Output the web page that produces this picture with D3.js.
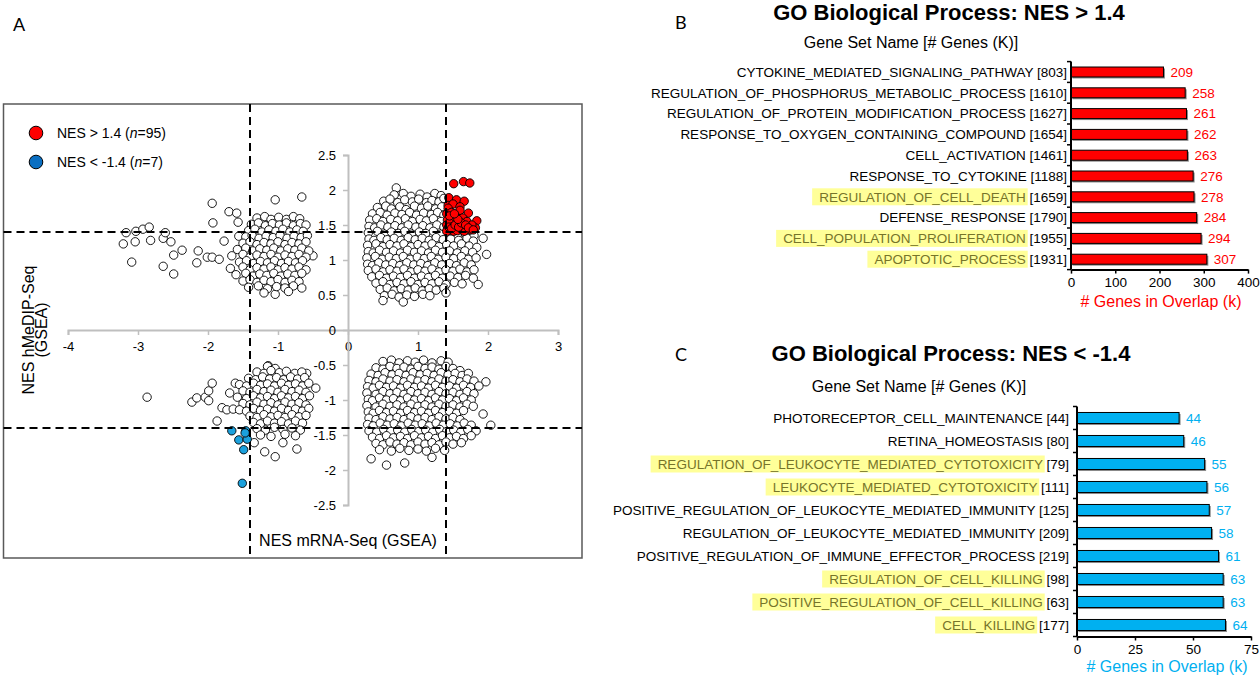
<!DOCTYPE html>
<html>
<head>
<meta charset="utf-8">
<script src="https://cdn.jsdelivr.net/npm/d3@7"></script>
<style>
body { margin: 0; background: #fff; }
svg text { font-family: "Liberation Sans", Arial, sans-serif; }
</style>
</head>
<body>
<svg id="fig" width="1260" height="677"></svg>
<script>
// ---------- panel A data (NES mRNA-Seq, NES hMeDIP-Seq)
var upRightPts = [
  [0.69,2.03],
  [0.66,1.93],[0.79,1.95],[0.9,1.91],[1.03,1.94],[1.13,1.9],[1.24,1.95],[1.33,1.92],
  [0.51,1.84],[0.6,1.87],[0.71,1.82],[0.81,1.86],[0.92,1.83],[1.01,1.87],[1.12,1.82],[1.2,1.85],[1.3,1.83],[1.37,1.88],
  [0.42,1.75],[0.54,1.77],[0.62,1.73],[0.74,1.76],[0.83,1.72],[0.95,1.77],[1.05,1.74],[1.14,1.77],[1.25,1.73],[1.34,1.76],
  [0.35,1.66],[0.46,1.68],[0.56,1.64],[0.67,1.67],[0.77,1.65],[0.88,1.68],[0.98,1.64],[1.08,1.67],[1.19,1.65],[1.28,1.68],[1.37,1.64],
  [0.31,1.57],[0.41,1.59],[0.5,1.55],[0.61,1.58],[0.71,1.56],[0.82,1.59],[0.92,1.55],[1.03,1.58],[1.12,1.56],[1.22,1.59],[1.33,1.55],
  [0.3,1.48],[0.38,1.46],[0.47,1.5],[0.57,1.47],[0.67,1.49],[0.77,1.46],[0.86,1.5],[0.97,1.47],[1.07,1.49],[1.17,1.46],[1.27,1.5],[1.37,1.47],
  [0.29,1.39],[0.42,1.41],[0.52,1.37],[0.62,1.4],[0.72,1.38],[0.81,1.41],[0.91,1.37],[1.02,1.4],[1.11,1.38],[1.22,1.41],[1.32,1.37],[1.45,1.37],[1.56,1.36],[1.68,1.37],[1.8,1.35],[1.93,1.31],
  [0.3,1.3],[0.37,1.28],[0.47,1.32],[0.56,1.29],[0.66,1.31],[0.76,1.28],[0.86,1.32],[0.96,1.29],[1.06,1.31],[1.16,1.28],[1.26,1.32],[1.36,1.29],[1.47,1.3],[1.58,1.28],[1.7,1.31],[1.79,1.27],
  [0.28,1.21],[0.4,1.23],[0.5,1.19],[0.6,1.22],[0.7,1.2],[0.8,1.23],[0.9,1.19],[1.0,1.22],[1.1,1.2],[1.2,1.23],[1.3,1.19],[1.41,1.22],[1.51,1.2],[1.62,1.23],[1.73,1.2],[1.84,1.18],
  [0.29,1.12],[0.36,1.1],[0.45,1.14],[0.55,1.11],[0.65,1.13],[0.75,1.1],[0.85,1.14],[0.95,1.11],[1.05,1.13],[1.15,1.1],[1.25,1.14],[1.35,1.11],[1.45,1.13],[1.56,1.1],[1.67,1.13],[1.78,1.11],
  [0.27,1.03],[0.39,1.05],[0.49,1.01],[0.59,1.04],[0.69,1.02],[0.79,1.05],[0.89,1.01],[0.99,1.04],[1.09,1.02],[1.19,1.05],[1.29,1.01],[1.4,1.04],[1.51,1.02],[1.62,1.05],[1.72,1.01],[1.83,1.03],[1.98,1.08],
  [0.28,0.94],[0.35,0.92],[0.44,0.96],[0.54,0.93],[0.64,0.95],[0.74,0.92],[0.84,0.96],[0.94,0.93],[1.04,0.95],[1.14,0.92],[1.24,0.96],[1.34,0.93],[1.45,0.95],[1.55,0.92],[1.66,0.96],[1.76,0.93],
  [0.29,0.85],[0.4,0.87],[0.5,0.83],[0.6,0.86],[0.7,0.84],[0.8,0.87],[0.9,0.83],[1.0,0.86],[1.1,0.84],[1.2,0.87],[1.3,0.83],[1.4,0.86],[1.5,0.84],[1.6,0.87],[1.7,0.83],[1.8,0.86],
  [0.34,0.76],[0.45,0.78],[0.55,0.74],[0.65,0.77],[0.75,0.75],[0.85,0.78],[0.95,0.74],[1.05,0.77],[1.15,0.75],[1.25,0.78],[1.35,0.74],[1.46,0.77],[1.57,0.75],[1.68,0.78],[1.79,0.74],
  [0.4,0.67],[0.5,0.69],[0.6,0.65],[0.7,0.68],[0.8,0.66],[0.9,0.69],[1.0,0.65],[1.1,0.68],[1.2,0.66],[1.3,0.69],[1.4,0.65],[1.52,0.68],[1.63,0.66],[1.86,0.65],
  [0.46,0.58],[0.56,0.6],[0.66,0.56],[0.76,0.59],[0.86,0.57],[0.96,0.6],[1.06,0.56],[1.16,0.59],[1.26,0.57],[1.37,0.6],
  [0.52,0.49],[0.63,0.51],[0.73,0.47],[0.84,0.5],[0.95,0.48],[1.07,0.51],[1.17,0.49],[1.4,0.53],
  [0.5,0.42],[0.79,0.4]
];
var upLeftPts = [
  [-3.17,1.39],[-3.03,1.41],[-2.93,1.44],[-2.84,1.47],[-3.21,1.23],[-3.04,1.26],[-2.82,1.28],[-3.09,0.97],
  [-2.64,1.31],[-2.61,1.39],[-2.53,1.26],[-2.49,1.07],[-2.37,1.14],[-2.64,0.91],[-2.49,0.8],[-2.14,1.13],
  [-2.16,0.96],[-2.01,1.04],[-1.94,1.04],[-1.84,1.01],[-1.77,1.27],[-1.94,1.81],[-1.93,1.53],[-1.7,1.69],
  [-1.59,1.67],[-1.57,1.54],[-1.56,1.34],[-1.04,1.86],[-0.66,1.9],[-0.5,1.06],[-1.04,0.51],
  [-1.3,1.6],[-1.19,1.62],[-1.1,1.58],[-0.99,1.61],[-0.88,1.58],[-0.78,1.62],[-0.69,1.59],
  [-1.38,1.51],[-1.28,1.53],[-1.18,1.49],[-1.08,1.52],[-0.98,1.5],[-0.88,1.53],[-0.78,1.49],[-0.68,1.52],[-0.6,1.5],
  [-1.42,1.42],[-1.33,1.44],[-1.23,1.4],[-1.13,1.43],[-1.03,1.41],[-0.93,1.44],[-0.83,1.4],[-0.73,1.43],[-0.64,1.41],
  [-1.46,1.33],[-1.37,1.35],[-1.27,1.31],[-1.17,1.34],[-1.07,1.32],[-0.97,1.35],[-0.87,1.31],[-0.77,1.34],[-0.67,1.32],[-0.58,1.35],
  [-1.5,1.24],[-1.4,1.26],[-1.3,1.22],[-1.2,1.25],[-1.1,1.23],[-1.0,1.26],[-0.9,1.22],[-0.8,1.25],[-0.7,1.23],[-0.6,1.26],
  [-1.58,1.15],[-1.46,1.17],[-1.36,1.13],[-1.26,1.16],[-1.16,1.14],[-1.06,1.17],[-0.96,1.13],[-0.86,1.16],[-0.76,1.14],[-0.66,1.17],[-0.56,1.13],
  [-1.66,1.06],[-1.5,1.08],[-1.4,1.04],[-1.3,1.07],[-1.2,1.05],[-1.1,1.08],[-1.0,1.04],[-0.9,1.07],[-0.8,1.05],[-0.7,1.08],[-0.6,1.04],
  [-1.55,0.97],[-1.45,0.99],[-1.35,0.95],[-1.25,0.98],[-1.15,0.96],[-1.05,0.99],[-0.95,0.95],[-0.85,0.98],[-0.75,0.96],[-0.65,0.99],
  [-1.68,0.88],[-1.5,0.9],[-1.4,0.86],[-1.3,0.89],[-1.2,0.87],[-1.1,0.9],[-1.0,0.86],[-0.9,0.89],[-0.8,0.87],[-0.7,0.9],[-0.6,0.86],
  [-1.6,0.79],[-1.46,0.81],[-1.36,0.77],[-1.26,0.8],[-1.16,0.78],[-1.06,0.81],[-0.96,0.77],[-0.86,0.8],[-0.76,0.78],[-0.66,0.81],
  [-1.5,0.7],[-1.4,0.72],[-1.3,0.68],[-1.2,0.71],[-1.1,0.69],[-1.0,0.72],[-0.9,0.68],[-0.8,0.71],[-0.7,0.69],
  [-1.42,0.61],[-1.28,0.63],[-1.15,0.59],[-1.02,0.62],[-0.9,0.6],[-0.78,0.63],[-0.66,0.6],
  [-1.2,0.53],[-0.85,0.55]
];
var lowLeftPts = [
  [-2.87,-0.96],[-2.23,-1.03],[-2.16,-0.97],[-2.04,-0.96],[-1.99,-0.87],[-1.94,-0.76],[-1.99,-1.01],[-1.87,-1.3],
  [-1.8,-1.11],[-1.73,-1.14],[-1.69,-0.9],[-1.64,-1.13],[-1.61,-0.76],[-1.19,-1.74],[-1.04,-1.81],[-1.34,-1.61],
  [-0.46,-0.83],[-0.59,-0.62],[-1.14,-0.51],[-0.73,-1.7],[-0.93,-1.61],
  [-1.15,-0.52],[-1.04,-0.55],
  [-1.3,-0.6],[-1.2,-0.62],[-1.1,-0.58],[-0.98,-0.61],[-0.88,-0.59],[-0.76,-0.62],[-0.66,-0.6],
  [-1.42,-0.69],[-1.32,-0.71],[-1.22,-0.67],[-1.12,-0.7],[-1.02,-0.68],[-0.92,-0.71],[-0.82,-0.67],[-0.72,-0.7],[-0.62,-0.68],
  [-1.55,-0.78],[-1.45,-0.8],[-1.35,-0.76],[-1.25,-0.79],[-1.15,-0.77],[-1.05,-0.8],[-0.95,-0.76],[-0.85,-0.79],[-0.75,-0.77],[-0.65,-0.8],[-0.56,-0.76],
  [-1.5,-0.87],[-1.4,-0.89],[-1.3,-0.85],[-1.2,-0.88],[-1.1,-0.86],[-1.0,-0.89],[-0.9,-0.85],[-0.8,-0.88],[-0.7,-0.86],[-0.6,-0.89],
  [-1.58,-0.96],[-1.45,-0.98],[-1.35,-0.94],[-1.25,-0.97],[-1.15,-0.95],[-1.05,-0.98],[-0.95,-0.94],[-0.85,-0.97],[-0.75,-0.95],[-0.65,-0.98],[-0.55,-0.94],
  [-1.5,-1.05],[-1.4,-1.07],[-1.3,-1.03],[-1.2,-1.06],[-1.1,-1.04],[-1.0,-1.07],[-0.9,-1.03],[-0.8,-1.06],[-0.7,-1.04],[-0.6,-1.07],
  [-1.55,-1.14],[-1.45,-1.16],[-1.35,-1.12],[-1.25,-1.15],[-1.15,-1.13],[-1.05,-1.16],[-0.95,-1.12],[-0.85,-1.15],[-0.75,-1.13],[-0.65,-1.16],[-0.56,-1.12],
  [-1.4,-1.23],[-1.3,-1.25],[-1.2,-1.21],[-1.1,-1.24],[-1.0,-1.22],[-0.9,-1.25],[-0.8,-1.21],[-0.7,-1.24],[-0.6,-1.22],
  [-1.35,-1.32],[-1.25,-1.34],[-1.15,-1.3],[-1.05,-1.33],[-0.95,-1.31],[-0.85,-1.34],[-0.75,-1.3],[-0.65,-1.33],
  [-1.3,-1.41],[-1.18,-1.43],[-1.05,-1.39],[-0.93,-1.42],[-0.8,-1.4],[-0.68,-1.43],
  [-1.25,-1.5],[-1.1,-1.52],[-0.9,-1.49],[-0.75,-1.51]
];
var lowRightPts = [
  [0.5,-0.45],[0.62,-0.43],[0.73,-0.47],[0.85,-0.44],[0.96,-0.46],[1.08,-0.43],[1.2,-0.47],[1.33,-0.44],[1.43,-0.46],
  [0.4,-0.54],[0.5,-0.56],[0.6,-0.52],[0.7,-0.55],[0.8,-0.53],[0.9,-0.56],[1.0,-0.52],[1.1,-0.55],[1.2,-0.53],[1.3,-0.56],[1.4,-0.52],[1.5,-0.55],[1.6,-0.58],
  [0.33,-0.63],[0.43,-0.65],[0.53,-0.61],[0.63,-0.64],[0.73,-0.62],[0.83,-0.65],[0.93,-0.61],[1.03,-0.64],[1.13,-0.62],[1.23,-0.65],[1.33,-0.61],[1.43,-0.64],[1.53,-0.62],[1.63,-0.65],[1.72,-0.62],
  [0.3,-0.72],[0.4,-0.74],[0.5,-0.7],[0.6,-0.73],[0.7,-0.71],[0.8,-0.74],[0.9,-0.7],[1.0,-0.73],[1.1,-0.71],[1.2,-0.74],[1.3,-0.7],[1.4,-0.73],[1.5,-0.71],[1.6,-0.74],[1.7,-0.7],[1.8,-0.73],[1.97,-0.74],
  [0.28,-0.81],[0.36,-0.83],[0.45,-0.79],[0.55,-0.82],[0.65,-0.8],[0.75,-0.83],[0.85,-0.79],[0.95,-0.82],[1.05,-0.8],[1.15,-0.83],[1.25,-0.79],[1.35,-0.82],[1.45,-0.8],[1.55,-0.83],[1.65,-0.79],[1.75,-0.82],[1.87,-0.8],
  [0.27,-0.9],[0.4,-0.92],[0.5,-0.88],[0.6,-0.91],[0.7,-0.89],[0.8,-0.92],[0.9,-0.88],[1.0,-0.91],[1.1,-0.89],[1.2,-0.92],[1.3,-0.88],[1.4,-0.91],[1.5,-0.89],[1.6,-0.92],[1.7,-0.88],[1.8,-0.91],
  [0.29,-0.99],[0.35,-1.01],[0.45,-0.97],[0.55,-1.0],[0.65,-0.98],[0.75,-1.01],[0.85,-0.97],[0.95,-1.0],[1.05,-0.98],[1.15,-1.01],[1.25,-0.97],[1.35,-1.0],[1.45,-0.98],[1.55,-1.01],[1.65,-0.97],[1.76,-1.0],
  [0.27,-1.08],[0.4,-1.1],[0.5,-1.06],[0.6,-1.09],[0.7,-1.07],[0.8,-1.1],[0.9,-1.06],[1.0,-1.09],[1.1,-1.07],[1.2,-1.1],[1.3,-1.06],[1.4,-1.09],[1.5,-1.07],[1.6,-1.1],[1.7,-1.06],[1.79,-1.09],
  [0.29,-1.17],[0.36,-1.19],[0.45,-1.15],[0.55,-1.18],[0.65,-1.16],[0.75,-1.19],[0.85,-1.15],[0.95,-1.18],[1.05,-1.16],[1.15,-1.19],[1.25,-1.15],[1.35,-1.18],[1.45,-1.16],[1.55,-1.19],[1.65,-1.15],[1.93,-1.2],
  [0.3,-1.26],[0.4,-1.28],[0.5,-1.24],[0.6,-1.27],[0.7,-1.25],[0.8,-1.28],[0.9,-1.24],[1.0,-1.27],[1.1,-1.25],[1.2,-1.28],[1.3,-1.24],[1.4,-1.27],[1.5,-1.25],[1.6,-1.28],
  [0.28,-1.35],[0.36,-1.37],[0.46,-1.33],[0.56,-1.36],[0.66,-1.34],[0.76,-1.37],[0.86,-1.33],[0.96,-1.36],[1.06,-1.34],[1.16,-1.37],[1.26,-1.33],[1.36,-1.36],[1.46,-1.34],[1.56,-1.37],[1.66,-1.33],[1.76,-1.36],[2.04,-1.36],
  [0.3,-1.44],[0.41,-1.46],[0.51,-1.42],[0.61,-1.45],[0.71,-1.43],[0.81,-1.46],[0.91,-1.42],[1.01,-1.45],[1.11,-1.43],[1.21,-1.46],[1.31,-1.42],[1.41,-1.45],[1.51,-1.43],[1.61,-1.46],[1.71,-1.42],[1.83,-1.44],
  [0.35,-1.53],[0.45,-1.55],[0.55,-1.51],[0.65,-1.54],[0.75,-1.52],[0.85,-1.55],[0.95,-1.51],[1.05,-1.54],[1.15,-1.52],[1.25,-1.55],[1.35,-1.51],[1.45,-1.54],[1.55,-1.52],[1.65,-1.55],[1.76,-1.51],
  [0.4,-1.62],[0.5,-1.64],[0.6,-1.6],[0.7,-1.63],[0.8,-1.61],[0.9,-1.64],[1.0,-1.6],[1.1,-1.63],[1.2,-1.61],[1.3,-1.64],[1.4,-1.6],[1.5,-1.63],[1.62,-1.61],
  [0.45,-1.71],[0.62,-1.73],[0.74,-1.69],[0.87,-1.72],[1.0,-1.7],[1.12,-1.73],[1.25,-1.69],[1.38,-1.72],
  [0.33,-1.84],[0.55,-1.93],[0.81,-1.9],[1.2,-1.82]
];
// NES > 1.4 in both
var redPts = [
  [1.51,2.09],[1.65,2.12],[1.74,2.1],
  [1.44,1.89],[1.55,1.86],[1.66,1.84],[1.43,1.78],[1.5,1.8],[1.6,1.76],
  [1.43,1.74],[1.6,1.71],[1.72,1.67],[1.84,1.56],[1.82,1.46],
  [1.41,1.66],[1.48,1.68],[1.54,1.62],[1.64,1.6],[1.7,1.55],[1.77,1.5],
  [1.42,1.57],[1.47,1.6],[1.52,1.55],[1.58,1.52],[1.63,1.48],[1.69,1.45],[1.75,1.43],
  [1.41,1.5],[1.45,1.53],[1.5,1.48],[1.55,1.45],[1.6,1.43],[1.66,1.41],
  [1.42,1.44],[1.46,1.42],[1.51,1.41],[1.56,1.42],[1.41,1.41],[1.44,1.47],[1.48,1.45],
  [1.53,1.5],[1.58,1.47],[1.62,1.53],[1.68,1.5],[1.72,1.46],[1.79,1.43],[1.57,1.58],[1.45,1.63],[1.52,1.66]
];
// NES < -1.4 in both
var bluePts = [[-1.66,-1.44],[-1.46,-1.44],[-1.56,-1.57],[-1.44,-1.56],[-1.49,-1.71],[-1.51,-2.19],[-1.47,-1.47]];

var nesCut = [-1.4, 1.4];
var xTicks = [-4, -3, -2, -1, 0, 1, 2, 3];
var yTicks = [-2.5, -2, -1.5, -1, -0.5, 0, 0.5, 1, 1.5, 2, 2.5];

// ---------- panel B / C data
var upTerms = ["CYTOKINE_MEDIATED_SIGNALING_PATHWAY", "REGULATION_OF_PHOSPHORUS_METABOLIC_PROCESS",
  "REGULATION_OF_PROTEIN_MODIFICATION_PROCESS", "RESPONSE_TO_OXYGEN_CONTAINING_COMPOUND", "CELL_ACTIVATION",
  "RESPONSE_TO_CYTOKINE", "REGULATION_OF_CELL_DEATH", "DEFENSE_RESPONSE", "CELL_POPULATION_PROLIFERATION",
  "APOPTOTIC_PROCESS"];
var upSetSize = [803, 1610, 1627, 1654, 1461, 1188, 1659, 1790, 1955, 1931];
var upOverlap = [209, 258, 261, 262, 263, 276, 278, 284, 294, 307];
var upMarked = ["REGULATION_OF_CELL_DEATH", "CELL_POPULATION_PROLIFERATION", "APOPTOTIC_PROCESS"];
var upTicks = [0, 100, 200, 300, 400];

var downTerms = ["PHOTORECEPTOR_CELL_MAINTENANCE", "RETINA_HOMEOSTASIS",
  "REGULATION_OF_LEUKOCYTE_MEDIATED_CYTOTOXICITY", "LEUKOCYTE_MEDIATED_CYTOTOXICITY",
  "POSITIVE_REGULATION_OF_LEUKOCYTE_MEDIATED_IMMUNITY", "REGULATION_OF_LEUKOCYTE_MEDIATED_IMMUNITY",
  "POSITIVE_REGULATION_OF_IMMUNE_EFFECTOR_PROCESS", "REGULATION_OF_CELL_KILLING",
  "POSITIVE_REGULATION_OF_CELL_KILLING", "CELL_KILLING"];
var downSetSize = [44, 80, 79, 111, 125, 209, 219, 98, 63, 177];
var downOverlap = [44, 46, 55, 56, 57, 58, 61, 63, 63, 64];
var downMarked = ["REGULATION_OF_LEUKOCYTE_MEDIATED_CYTOTOXICITY", "LEUKOCYTE_MEDIATED_CYTOTOXICITY",
  "REGULATION_OF_CELL_KILLING", "POSITIVE_REGULATION_OF_CELL_KILLING", "CELL_KILLING"];
var downTicks = [0, 25, 50, 75];

var svg = d3.select("#fig");
svg.append("rect").attr("width", 1260).attr("height", 677).attr("fill", "#fff");

// ================= panel A =================
var x = d3.scaleLinear().domain([-4, 3]).range([68, 558]);
var y = d3.scaleLinear().domain([-2.5, 2.5]).range([505, 155]);
var boxL = 3.5, boxT = 104, boxR = 582, boxB = 558;

svg.append("rect")
    .attr("x", boxL).attr("y", boxT)
    .attr("width", boxR - boxL).attr("height", boxB - boxT)
    .attr("fill", "none").attr("stroke", "#595959").attr("stroke-width", 1.5);

svg.append("text").attr("x", 13).attr("y", 31)
    .style("font-family", "Lato, 'Open Sans', sans-serif").attr("font-size", 18).text("A");

var fmt = function (d) { return String(d); };
var gx = svg.append("g").attr("transform", "translate(0," + y(0) + ")")
    .call(d3.axisBottom(x).tickValues(xTicks).tickFormat(fmt).tickSize(5).tickPadding(7));
var gy = svg.append("g").attr("transform", "translate(" + x(0) + ",0)")
    .call(d3.axisLeft(y).tickValues(yTicks).tickFormat(fmt).tickSize(5).tickPadding(7));
[gx, gy].forEach(function (g) {
    g.attr("font-size", 13).attr("font-family", null);
    g.select(".domain").attr("stroke", "#bfbfbf").attr("stroke-width", 2);
    g.selectAll(".tick line").attr("stroke", "#bfbfbf").attr("stroke-width", 1.5);
    g.selectAll(".tick text").attr("fill", "#000");
});

function dots(data, fill) {
    svg.append("g").selectAll("circle")
        .data(data)
        .enter().append("circle")
        .attr("cx", function (d) { return x(d[0]); })
        .attr("cy", function (d) { return y(d[1]); })
        .attr("r", 4.2)
        .attr("fill", fill)
        .attr("stroke", "#000")
        .attr("stroke-width", 0.9);
}
dots(upLeftPts, "#fff");
dots(lowLeftPts, "#fff");
dots(upRightPts, "#fff");
dots(lowRightPts, "#fff");
dots(redPts, "#ff0000");
dots(bluePts, "#1ba1dd");

// cut-off lines on top of the points
var dash = svg.append("g").attr("stroke", "#000").attr("stroke-width", 2).attr("stroke-dasharray", "8,5");
nesCut.forEach(function (c) {
    dash.append("line").attr("x1", x(c)).attr("x2", x(c)).attr("y1", boxT).attr("y2", boxB);
    dash.append("line").attr("x1", boxL).attr("x2", boxR).attr("y1", y(c)).attr("y2", y(c));
});

svg.append("text").attr("x", x(0)).attr("y", 546).attr("text-anchor", "middle")
    .attr("font-size", 16).text("NES mRNA-Seq (GSEA)");
svg.append("text").attr("transform", "translate(34," + y(0) + ") rotate(-90)")
    .attr("text-anchor", "middle").attr("font-size", 16).text("NES hMeDIP-Seq");
svg.append("text").attr("transform", "translate(47," + y(0) + ") rotate(-90)")
    .attr("text-anchor", "middle").attr("font-size", 16).text("(GSEA)");

// legend
var legend = [
    {fill: "#ff0000", pre: "NES > 1.4 (", n: "95"},
    {fill: "#0a6fc2", pre: "NES < -1.4 (", n: "7"}
];
var lg = svg.append("g").selectAll("g").data(legend).enter().append("g")
    .attr("transform", function (d, i) { return "translate(36," + (133 + i * 29) + ")"; });
lg.append("circle").attr("r", 6.8).attr("fill", function (d) { return d.fill; })
    .attr("stroke", "#000").attr("stroke-width", 1);
var lt = lg.append("text").attr("x", 21).attr("dy", "0.36em").attr("font-size", 14);
lt.append("tspan").text(function (d) { return d.pre; });
lt.append("tspan").attr("font-style", "italic").text("n");
lt.append("tspan").text(function (d) { return "=" + d.n + ")"; });

// ================= panels B and C =================
function barPanel(o) {
    var g = svg.append("g");
    var xs = d3.scaleLinear().domain([o.ticks[0], o.ticks[o.ticks.length - 1]]).range([o.x0, o.x1]);
    var ys = d3.scaleBand().domain(o.terms).range([o.top, o.bottom]).paddingInner(0.52).paddingOuter(0.26);
    var mid = function (d) { return ys(d) + ys.bandwidth() / 2; };

    svg.append("text").attr("x", 675).attr("y", o.letterY)
        .style("font-family", "Lato, 'Open Sans', sans-serif").attr("font-size", 18).text(o.letter);
    svg.append("text").attr("x", o.titleX).attr("y", o.titleY).attr("text-anchor", "middle")
        .attr("font-size", 22).attr("font-weight", "bold").text(o.title);
    svg.append("text").attr("x", o.headX).attr("y", o.headY).attr("text-anchor", "middle")
        .attr("font-size", 16).text("Gene Set Name [# Genes (K)]");

    var hl = g.append("g");
    var lab = g.append("g").selectAll("text").data(o.terms).enter().append("text")
        .attr("x", o.labelX).attr("y", mid).attr("dy", "0.36em")
        .attr("text-anchor", "end").attr("font-size", 13.5);
    lab.append("tspan").attr("class", "nm")
        .attr("fill", function (d) { return o.marked.indexOf(d) >= 0 ? "#76742a" : "#000"; })
        .text(function (d) { return d; });
    lab.append("tspan").attr("fill", "#000")
        .text(function (d, i) { return " [" + o.sizes[i] + "]"; });
    lab.each(function (d) {
        if (o.marked.indexOf(d) < 0) return;
        var bb = this.getBBox();
        var w = this.querySelector(".nm").getComputedTextLength();
        hl.append("rect").attr("x", bb.x - 7).attr("y", mid(d) - 8.5)
            .attr("width", w + 9).attr("height", 17).attr("fill", "#ffff99");
    });

    var bars = g.append("g").selectAll("g").data(o.terms).enter().append("g");
    bars.append("rect")
        .attr("x", xs(0) + 1.5).attr("y", function (d) { return ys(d) + 1.5; })
        .attr("width", function (d, i) { return xs(o.values[i]) - xs(0); })
        .attr("height", ys.bandwidth()).attr("fill", "#8c8c8c");
    bars.append("rect")
        .attr("x", xs(0)).attr("y", function (d) { return ys(d); })
        .attr("width", function (d, i) { return xs(o.values[i]) - xs(0); })
        .attr("height", ys.bandwidth())
        .attr("fill", o.color).attr("stroke", "#000").attr("stroke-width", 1);
    bars.append("text")
        .attr("x", function (d, i) { return xs(o.values[i]) + 7; })
        .attr("y", mid).attr("dy", "0.36em")
        .attr("font-size", 13.5).attr("fill", o.textColor)
        .text(function (d, i) { return o.values[i]; });

    // category axis with ticks between the bands
    var edges = o.terms.map(function (d) { return ys(d) - ys.step() * ys.paddingInner() / 2; });
    edges.push(o.bottom);
    g.append("line").attr("x1", xs(0)).attr("x2", xs(0)).attr("y1", o.top).attr("y2", o.bottom)
        .attr("stroke", "#000").attr("stroke-width", 2);
    g.append("g").selectAll("line").data(edges).enter().append("line")
        .attr("x1", xs(0) - 4).attr("x2", xs(0)).attr("y1", function (d) { return d; })
        .attr("y2", function (d) { return d; }).attr("stroke", "#000").attr("stroke-width", 1.5);

    var ax = g.append("g").attr("transform", "translate(0," + o.bottom + ")")
        .call(d3.axisBottom(xs).tickValues(o.ticks).tickSize(4).tickSizeOuter(0).tickPadding(4));
    ax.attr("font-size", 13.5).attr("font-family", null);
    ax.select(".domain").attr("stroke", "#000").attr("stroke-width", 2);
    ax.selectAll(".tick line").attr("stroke", "#000").attr("stroke-width", 1.5);
    ax.selectAll(".tick text").attr("fill", "#000");

    svg.append("text").attr("x", o.axisTitleX).attr("y", o.axisTitleY).attr("text-anchor", "middle")
        .attr("font-size", 16).attr("fill", o.textColor).text("# Genes in Overlap (k)");
}

barPanel({
    terms: upTerms, sizes: upSetSize, values: upOverlap, marked: upMarked, ticks: upTicks,
    x0: 1071, x1: 1248, top: 61.6, bottom: 269.6, labelX: 1067,
    color: "#ff0000", textColor: "#ff0000",
    letter: "B", letterY: 29, title: "GO Biological Process: NES > 1.4", titleX: 949, titleY: 20,
    headX: 911, headY: 48, axisTitleX: 1161, axisTitleY: 307
});
barPanel({
    terms: downTerms, sizes: downSetSize, values: downOverlap, marked: downMarked, ticks: downTicks,
    x0: 1077, x1: 1251, top: 406.5, bottom: 636.5, labelX: 1069,
    color: "#00b0f0", textColor: "#00b0f0",
    letter: "C", letterY: 361, title: "GO Biological Process: NES < -1.4", titleX: 951, titleY: 361,
    headX: 919, headY: 392, axisTitleX: 1167, axisTitleY: 672
});
</script>
</body>
</html>
